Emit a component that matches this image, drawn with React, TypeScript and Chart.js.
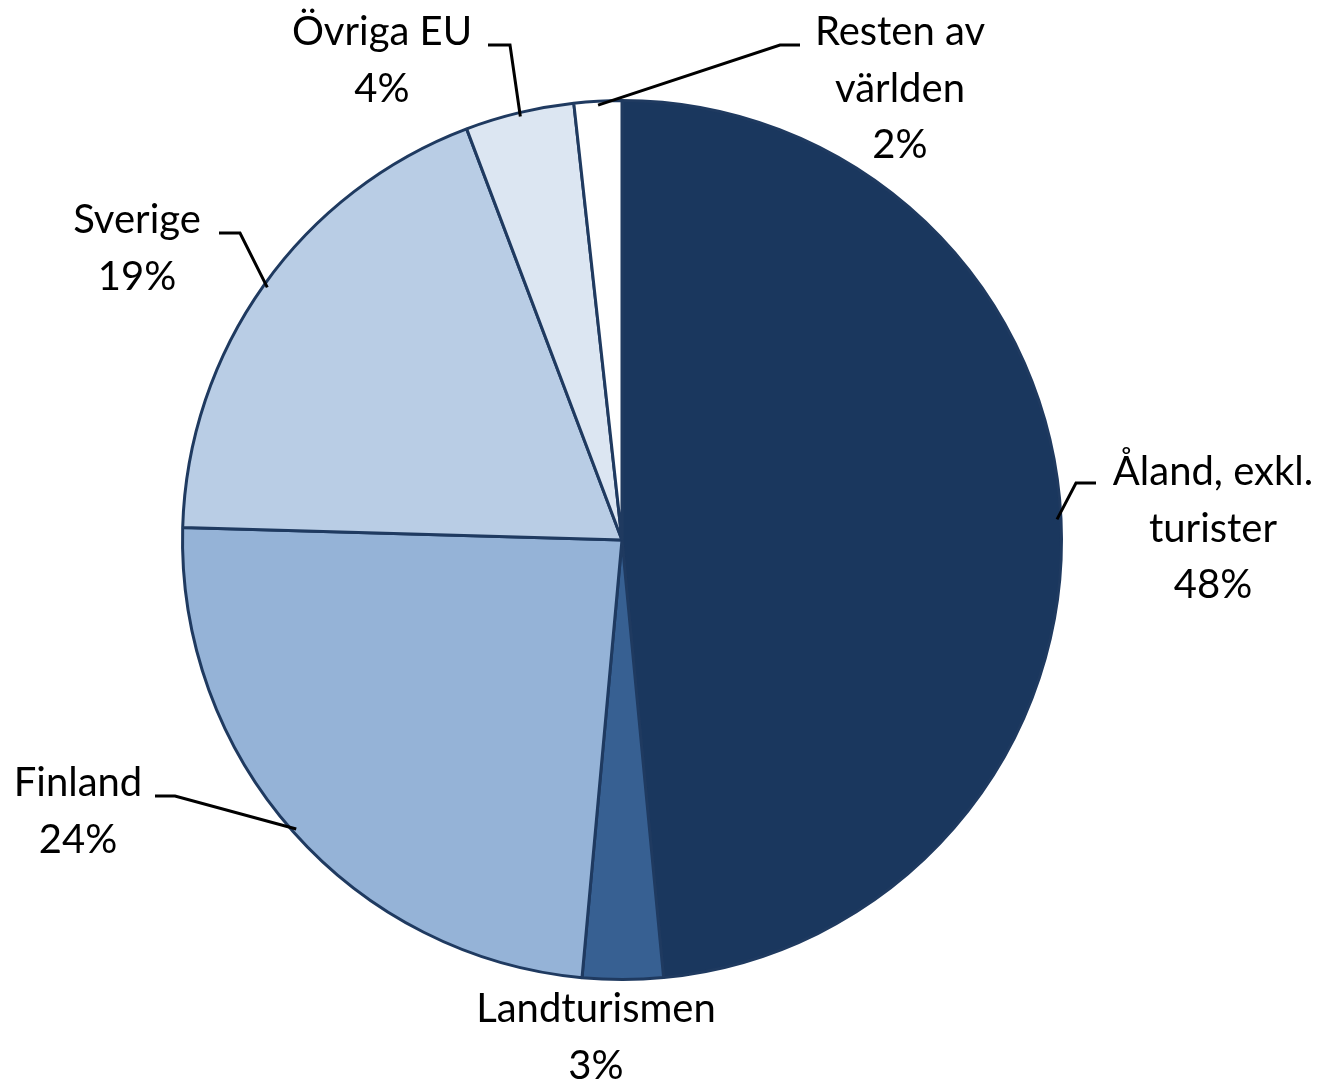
import React, { useEffect, useRef } from "react";
import { Chart, registerables } from "chart.js";

Chart.register(...registerables);

const categories = ["Åland, exkl. turister", "Landturismen", "Finland", "Sverige", "Övriga EU", "Resten av världen"];
const labelLines = [["Åland, exkl.", "turister"], ["Landturismen"], ["Finland"], ["Sverige"], ["Övriga EU"], ["Resten av", "världen"]];
const shares = [48.49, 2.96, 24.0, 18.8, 4.0, 1.75];
const colors = ["#1A375E", "#376092", "#95B3D7", "#B9CDE5", "#DCE6F2", "#FFFFFF"];

// label layout: text center x, first baseline y, elbow point (null = no leader)
const labelLayout = [
  { x: 1213, y: 485, elbow: [1076, 483], start: [1096, 483] },
  { x: 596, y: 1022, elbow: null, start: null },
  { x: 78, y: 796, elbow: [175, 796], start: [155, 796] },
  { x: 137, y: 233, elbow: [240, 233], start: [219, 233] },
  { x: 382, y: 45, elbow: [510, 45], start: [488, 45] },
  { x: 900, y: 45, elbow: [780, 45], start: [800, 45] },
];

const FONT = "40px Lato, 'Open Sans', sans-serif";
const LINE_H = 56.5;

const labelPlugin = {
  id: "outLabels",
  afterDatasetsDraw(chart: any) {
    const ctx = chart.ctx;
    const meta = chart.getDatasetMeta(0);
    ctx.save();
    meta.data.forEach((arc: any, i: number) => {
      const lay = labelLayout[i];
      const { x: cx, y: cy, startAngle, endAngle, outerRadius } = arc.getProps(["x", "y", "startAngle", "endAngle", "outerRadius"], true);
      const mid = (startAngle + endAngle) / 2;
      if (lay.elbow && lay.start) {
        const r = outerRadius - 4;
        const px = cx + Math.cos(mid) * r;
        const py = cy + Math.sin(mid) * r;
        ctx.beginPath();
        ctx.strokeStyle = "#000";
        ctx.lineWidth = 3;
        ctx.moveTo(lay.start[0], lay.start[1]);
        ctx.lineTo(lay.elbow[0], lay.elbow[1]);
        ctx.lineTo(px, py);
        ctx.stroke();
      }
      const lines = [...labelLines[i], Math.round(shares[i]) + "%"];
      ctx.fillStyle = "#000";
      ctx.font = FONT;
      ctx.textAlign = "center";
      ctx.textBaseline = "alphabetic";
      lines.forEach((t, k) => {
        ctx.fillText(t, lay.x, lay.y + k * LINE_H);
      });
    });
    ctx.restore();
  },
};

export default function App() {
  const ref = useRef<HTMLCanvasElement>(null);
  useEffect(() => {
    if (!ref.current) return;
    const chart = new Chart(ref.current, {
      type: "pie",
      data: {
        labels: categories,
        datasets: [
          {
            data: shares,
            backgroundColor: colors,
            borderColor: "#1F3A60",
            borderWidth: 3,
          },
        ],
      },
      options: {
        responsive: false,
        animation: false,
        layout: { padding: { left: 181, right: 268, top: 99, bottom: 106 } },
        plugins: { legend: { display: false }, tooltip: { enabled: false } },
      },
      plugins: [labelPlugin],
    });
    return () => chart.destroy();
  }, []);
  return (
    <div style={{ position: "absolute", left: 0, top: 0, width: 1331, height: 1087, background: "#fff" }}>
      <canvas ref={ref} width={1331} height={1087} />
    </div>
  );
}
